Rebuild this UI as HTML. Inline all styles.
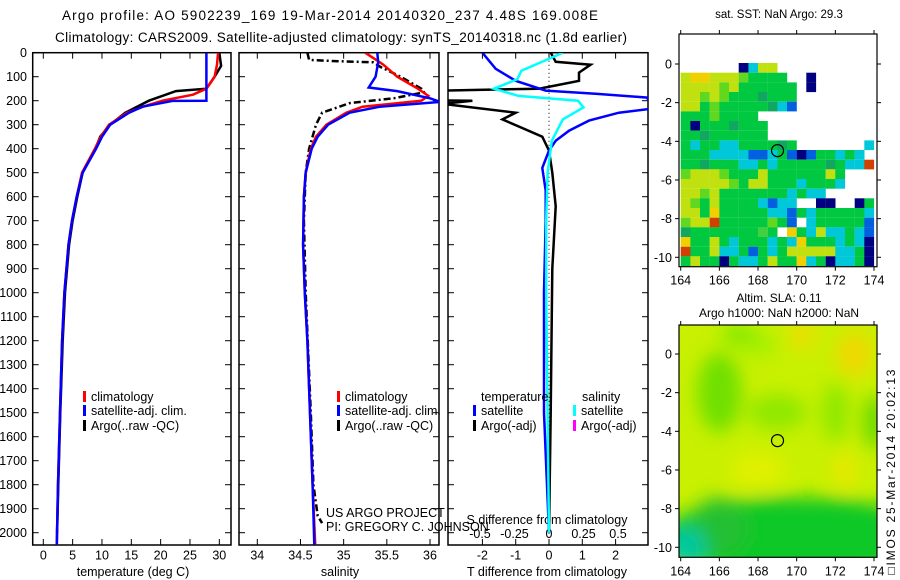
<!DOCTYPE html>
<html><head><meta charset="utf-8"><style>
html,body{margin:0;padding:0;background:#fff;}
svg{display:block;font-family:"Liberation Sans",sans-serif;}
text{fill:#000;}
</style></head><body>
<svg id="s" width="900" height="580" viewBox="0 0 900 580" xmlns="http://www.w3.org/2000/svg">
<defs>
<filter id="blur" x="-20%" y="-20%" width="140%" height="140%"><feGaussianBlur stdDeviation="9"/></filter>
<clipPath id="cp1"><rect x="33" y="53" width="198" height="492"/></clipPath>
<clipPath id="cp2"><rect x="239" y="53" width="200" height="492"/></clipPath>
<clipPath id="cp3"><rect x="448" y="53" width="200" height="492"/></clipPath>
<clipPath id="cpm2"><rect x="679" y="325" width="198" height="232"/></clipPath>
</defs>
<g font-size="13.5">
<text x="62" y="20" textLength="536" lengthAdjust="spacing">Argo profile: AO 5902239_169 19-Mar-2014 20140320_237 4.48S 169.008E</text>
<text x="55" y="42" textLength="572" lengthAdjust="spacing">Climatology: CARS2009. Satellite-adjusted climatology: synTS_20140318.nc (1.8d earlier)</text>
</g>
<g id="g1"></g>
<g id="g2"></g>
<g id="g3"></g>
<g id="m1"></g>
<g id="m2"></g>
<text x="892" y="472" font-size="12" text-anchor="middle" textLength="205" lengthAdjust="spacing" transform="rotate(-90 892 472)" dominant-baseline="middle">□IMOS 25-Mar-2014 20:02:13</text>
</svg>
<script>
// ---- data ----
const tClimD=[0,50,100,150,175,200,225,250,300,350,400,500,600,700,800,1000,1200,1500,1800,2050];
const tClimV=[29.8,29.6,29.2,27.8,25.5,20.3,17,14.3,11.2,9.8,8.8,6.6,5.7,4.9,4.3,3.6,3.2,2.85,2.5,2.3];
const tSatD=[0,200,201,225,250,300,350,400,500,600,700,800,1000,1200,1500,1800,2050];
const tSatV=[27.8,27.8,22,16.9,14.6,11.4,10,9,6.7,5.7,4.9,4.3,3.6,3.2,2.85,2.5,2.3];
const tArgD=[0,55,100,150,160,200,250,300,350,400,500,600,700,800,1000,1200,1500,1800,2000];
const tArgV=[30,30.3,29.2,27.8,22.6,18,14,11.4,9.7,8.9,6.7,5.8,5.0,4.4,3.7,3.3,2.9,2.55,2.35];
const sClimD=[0,50,100,150,180,200,225,250,300,350,400,500,600,800,1000,1200,1500,1800,2050];
const sClimV=[35.25,35.46,35.62,35.86,35.98,35.9,35.22,35.03,34.8,34.68,34.62,34.56,34.54,34.53,34.55,34.58,34.61,34.64,34.67];
const sSatD=[0,40,100,145,160,190,205,225,250,300,350,400,500,600,800,1000,1200,1500,1800,2050];
const sSatV=[35.39,35.4,35.37,35.29,35.62,36.0,36.12,35.42,35.07,34.82,34.7,34.63,34.56,34.54,34.53,34.55,34.58,34.61,34.64,34.66];
const sArgD=[0,30,35,40,60,100,150,165,190,210,250,300,400,500,700,1000,1500,1800,1930,1960];
const sArgV=[34.58,34.6,34.9,35.34,35.43,35.66,35.9,35.93,35.58,35.07,34.75,34.68,34.6,34.56,34.54,34.56,34.62,34.65,34.7,34.75];
const dTSatD=[0,67,117,158,171,187,233,250,283,325,367,408,480,575,700,1000,1500,2000];
const dTSatV=[-2.0,-1.6,-1.0,-0.1,1.4,2.95,3.1,2.1,1.2,0.6,0.2,0,-0.2,-0.1,-0.1,-0.15,-0.15,0];
const dTArgD=[0,38,50,83,117,150,158,199,200,213,250,278,350,408,500,640,900,1500,2000];
const dTArgV=[0.05,0.2,1.25,0.9,0.9,-0.3,-3.2,-3.2,-2.3,-3.2,-1.0,-1.4,-0.2,0,0.1,0.2,0.1,0.05,0];
const dSSatD=[0,28,75,111,150,180,200,228,278,367,500,700,1000,1500,2000];
const dSSatV=[0.1,-0.01,-0.2,-0.23,-0.4,-0.22,0.21,0.25,0.1,0.02,-0.01,-0.02,-0.02,-0.01,0];
const depthTicks=[0,100,200,300,400,500,600,700,800,900,1000,1100,1200,1300,1400,1500,1600,1700,1800,1900,2000];
const tTicks=[0,5,10,15,20,25,30];
const sTicks=[34,34.5,35,35.5,36];
const dTTicks=[-2,-1,0,1,2];
const dSTicks=[-0.5,-0.25,0,0.25,0.5];
const lonTicks=[164,166,168,170,172,174];
const latTicks=[0,-2,-4,-6,-8,-10];
const sstRows=[
"....................",
"....................",
"....................",
"......Bcyy..........",
"yYYyyylgggg..B......",
"yyyylygggggg.B......",
"yylylgggGggg........",
"yyglgggggGcb........",
"ggglgggg............",
"gBgggGggg...........",
"ggGgggggg...........",
"gcggccggggGg.......c",
"gggccccbbcgbBbggcgc.",
"ggGgggccgcgggggGgcco",
"lyyylgggyggggggyg...",
"yyyyylgyygggcgggc...",
"yylygggggggcgcc.....",
"ylgyggggcbcc..BB..Bg",
"yygYgggggccbgcgggggc",
"lyyoggggglgb.cgggggb",
"GgggggggIg.Ygcyccgcb",
"YggygcgggcgcYgggcgcB",
"oggyccgbgcgyyyyyccgB",
"gyggBgccgyggYcgBccgB"];
const sstColors={y:"#c0e010",Y:"#f0d000",g:"#00c840",G:"#10a860",l:"#60d820",c:"#00c8d8",B:"#000080",b:"#0060e0",o:"#d04000",I:"#40d040"};
// ---- helpers ----
const NS="http://www.w3.org/2000/svg";
function mk(tag,at,par){const e=document.createElementNS(NS,tag);for(const k in at)e.setAttribute(k,at[k]);(par||document.getElementById('s')).appendChild(e);return e;}
const dy=d=>52.7+d*0.2400;
function drawLine(g,D,V,xf,color,w,name,clip,dash){
  const pts=D.map((d,i)=>xf(V[i]).toFixed(1)+","+dy(d).toFixed(1)).join(" ");
  const p=mk('polyline',{points:pts,fill:'none',stroke:color,'stroke-width':w,'clip-path':'url(#'+clip+')'},g);
  if(dash)p.setAttribute('stroke-dasharray',dash);
  
  
}
function frame(g,x0,x1,name){
  const r=mk('rect',{x:x0,y:52.7,width:x1-x0,height:545-52.7,fill:'none',stroke:'#000','stroke-width':1.5},g);
  
  
  depthTicks.forEach(d=>{mk('line',{x1:x0,x2:x0+6,y1:dy(d),y2:dy(d),stroke:'#000'},g);mk('line',{x1:x1,x2:x1-6,y1:dy(d),y2:dy(d),stroke:'#000'},g);});
}
function xticks(g,ticks,xf,y,labY,fs){
  ticks.forEach(t=>{const x=xf(t);mk('line',{x1:x,x2:x,y1:545,y2:539,stroke:'#000'},g);mk('line',{x1:x,x2:x,y1:52.7,y2:58.7,stroke:'#000'},g);
    const tx=mk('text',{x:x,y:labY,'font-size':fs||12.5,'text-anchor':'middle'},g);tx.textContent=String(t);});
}
function txt(g,x,y,s,fs,anchor,name){const t=mk('text',{x:x,y:y,'font-size':fs,'text-anchor':anchor||'start'},g);t.textContent=s;return t;}
function legend(g,x,y,color,label,name){
  mk('rect',{x:x,y:y-10,width:3,height:11,fill:color},g);
  txt(g,x+8,y,label,12.5,'start',name);
}
// ---- panel 1 ----
const g1=document.getElementById('g1');
const xT=v=>43.3+v*5.867;
frame(g1,32.7,231,'temperature-axes');
depthTicks.forEach(d=>{txt(g1,27,dy(d)+4.5,String(d),12.5,'end','depth-tick-label');});
xticks(g1,tTicks,xT,545,559.5);
txt(g1,133,576,'temperature (deg C)',12.5,'middle','x-axis-title-temperature');
drawLine(g1,tArgD,tArgV,xT,'#000',2.5,'temperature-argo-line','cp1');
drawLine(g1,tClimD,tClimV,xT,'#f00',2.5,'temperature-climatology-line','cp1');
drawLine(g1,tSatD,tSatV,xT,'#00f',2.5,'temperature-satellite-line','cp1');
legend(g1,83,401,'#f00','climatology','legend-climatology');
legend(g1,83,415,'#00f','satellite-adj. clim.','legend-satellite');
legend(g1,83,430,'#000','Argo(..raw -QC)','legend-argo');
// ---- panel 2 ----
const g2=document.getElementById('g2');
const xS=v=>257.3+(v-34)*86.35;
frame(g2,239,439,'salinity-axes');
xticks(g2,sTicks,xS,545,559.5);
txt(g2,340,576,'salinity',12.5,'middle','x-axis-title-salinity');
drawLine(g2,sArgD,sArgV,xS,'#000',2.5,'salinity-argo-line','cp2','7,3,2,3');
drawLine(g2,sClimD,sClimV,xS,'#f00',2.5,'salinity-climatology-line','cp2');
drawLine(g2,sSatD,sSatV,xS,'#00f',2.5,'salinity-satellite-line','cp2');
legend(g2,337,401,'#f00','climatology','legend-climatology-2');
legend(g2,337,415,'#00f','satellite-adj. clim.','legend-satellite-2');
legend(g2,337,430,'#000','Argo(..raw -QC)','legend-argo-2');
txt(g2,326,517,'US ARGO PROJECT',12.5,'start','project-credit');
txt(g2,326,531,'PI: GREGORY C. JOHNSON',12.5,'start','pi-credit');
// ---- panel 3 ----
const g3=document.getElementById('g3');
const xDT=v=>549+v*33.3;
const xDS=v=>549+v*138;
frame(g3,448,648,'difference-axes');
mk('line',{x1:549,x2:549,y1:52.7,y2:545,stroke:'#000','stroke-dasharray':'1,3'},g3);
dTTicks.forEach(t=>{const x=xDT(t);mk('line',{x1:x,x2:x,y1:545,y2:539,stroke:'#000'},g3);mk('line',{x1:x,x2:x,y1:52.7,y2:58.7,stroke:'#000'},g3);
  txt(g3,x,559.5,String(t),12.5,'middle','t-diff-tick-label');});
dSTicks.forEach(t=>{txt(g3,xDS(t),538,String(t),12.5,'middle','s-diff-tick-label');});
txt(g3,547,576,'T difference from climatology',12.5,'middle','x-axis-title-t-diff');
txt(g3,547,524,'S difference from climatology',12.5,'middle','x-axis-title-s-diff');
drawLine(g3,dTArgD,dTArgV,xDT,'#000',2.5,'t-diff-argo-line','cp3');
drawLine(g3,dTSatD,dTSatV,xDT,'#00f',2.5,'t-diff-satellite-line','cp3');
drawLine(g3,dSSatD,dSSatV,xDS,'#0ff',2.5,'s-diff-satellite-line','cp3');
txt(g3,481,401,'temperature',12.5,'start','legend-title-temperature');
legend(g3,473,415,'#00f','satellite','legend-t-satellite');
legend(g3,473,430,'#000','Argo(-adj)','legend-t-argo');
txt(g3,582,401,'salinity',12.5,'start','legend-title-salinity');
legend(g3,573,415,'#0ff','satellite','legend-s-satellite');
legend(g3,573,430,'#f0f','Argo(-adj)','legend-s-argo');
// ---- maps ----
const mx=lon=>680.7+(lon-164)*19.33;
function mapAxes(g,top,bot,lat0y,name){
  const my=lat=>lat0y-lat*19.33;
  const r=mk('rect',{x:679,y:top,width:198,height:bot-top,fill:'none',stroke:'#000','stroke-width':1.2},g);
  
  
  lonTicks.forEach(l=>{const x=mx(l);mk('line',{x1:x,x2:x,y1:bot,y2:bot+4,stroke:'#000'},g);mk('line',{x1:x,x2:x,y1:top,y2:top-4,stroke:'#000'},g);
    txt(g,x,bot+18,String(l),12.5,'middle','lon-tick-label');});
  latTicks.forEach(l=>{const y=my(l);mk('line',{x1:679,x2:675,y1:y,y2:y,stroke:'#000'},g);mk('line',{x1:877,x2:881,y1:y,y2:y,stroke:'#000'},g);
    txt(g,672,y+4.5,String(l),12.5,'end','lat-tick-label');});
  const c=mk('circle',{cx:mx(169.008),cy:my(-4.48),r:6,fill:'none',stroke:'#000','stroke-width':1.2},g);
  
  
}
const m1=document.getElementById('m1');
const m1y=lat=>64-lat*19.33;
sstRows.forEach((row,ri)=>{const lat=1.55-ri*0.5;[...row].forEach((ch,ci)=>{if(ch==='.')return;
  const lon=164+ci*0.5;const x=mx(lon),y=m1y(lat);const h=Math.min(9.67,266.7-y);
  const cell=mk('rect',{x:x.toFixed(1),y:y.toFixed(1),width:9.8,height:h.toFixed(1),fill:sstColors[ch]},m1);
  
  
});});
mapAxes(m1,34,266.7,64,'sst-map-frame');
txt(m1,779,18,'sat. SST: NaN  Argo: 29.3',11.5,'middle','sst-map-title');
const m2=document.getElementById('m2');
const m2y=lat=>354-lat*19.33;
const bg=mk('g',{'clip-path':'url(#cpm2)'},m2);
mk('rect',{x:679,y:325,width:198,height:232,fill:'#c8f000'},bg);
const bl=mk('g',{filter:'url(#blur)'},bg);
[[166,-2,22,40,'#70e000'],[169,-3,30,18,'#90e800'],[172,-3,14,30,'#90e800'],[168,0.5,20,14,'#a8f000'],[167,1,18,10,'#80e800'],[174,-3.5,10,28,'#60d800'],
 [170.3,1,14,16,'#e8e000'],[173,0,18,22,'#f0d800'],[168,-6,28,18,'#e0f000'],[172.5,-6,12,18,'#e8e800'],
 [170,-9.5,140,40,'#10c828'],[166,-9,30,30,'#20c030'],[164.3,-10,20,20,'#00c8a0']].forEach(a=>{
  mk('ellipse',{cx:mx(a[0]),cy:m2y(a[1]),rx:a[2],ry:a[3],fill:a[4]},bl);});
mapAxes(m2,325,557.3,354,'sla-map-frame');
txt(m2,779,302,'Altim. SLA: 0.11',12,'middle','sla-map-title');
txt(m2,779,317,'Argo h1000: NaN h2000: NaN',12,'middle','sla-map-subtitle');
</script>
</body></html>
